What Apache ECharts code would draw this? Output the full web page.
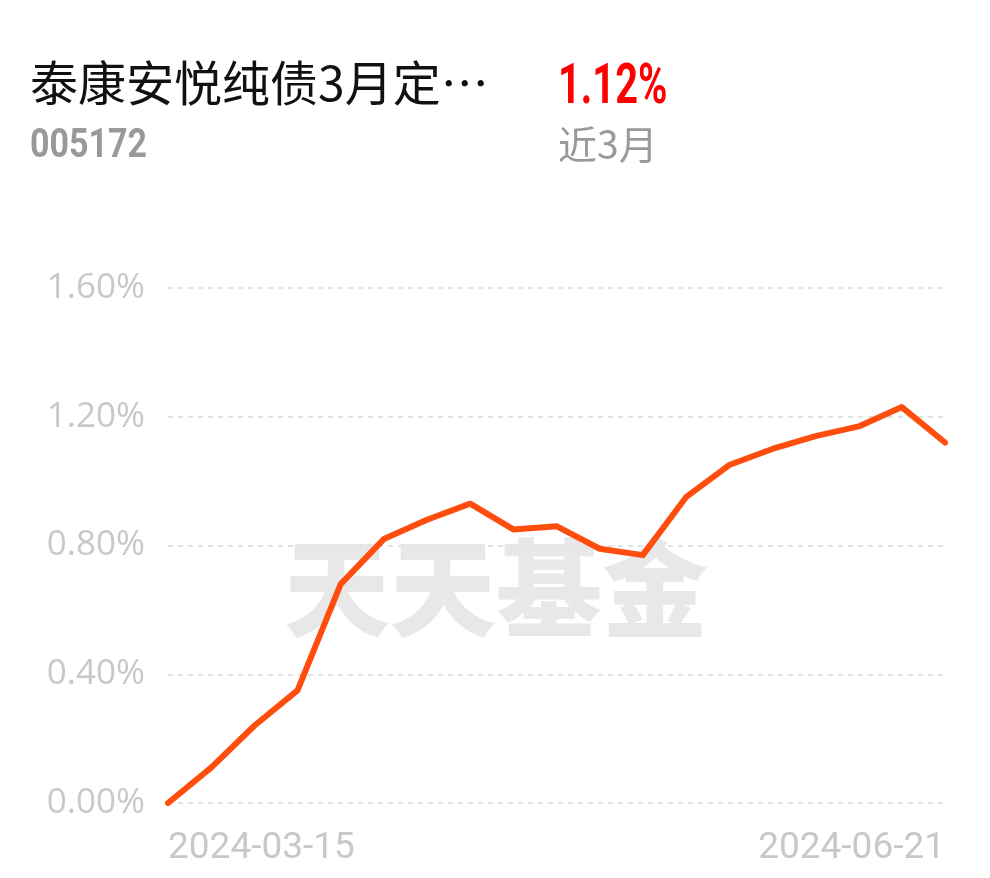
<!DOCTYPE html>
<html><head><meta charset="utf-8">
<script src="https://cdn.jsdelivr.net/npm/echarts@6/dist/echarts.min.js"></script>
<style>html,body{margin:0;padding:0;background:#fff}#c{width:990px;height:878px}</style>
</head><body><div id="c"></div>
<script>
const fundName = '泰康安悦纯债3月定…';
const fundCode = '005172';
const periodReturn = '1.12%';
const periodLabel = '近3月';
const watermark = '天天基金';
const dates = ['2024-03-15','2024-03-20','2024-03-25','2024-03-28','2024-04-02','2024-04-09','2024-04-12','2024-04-17','2024-04-22','2024-04-25','2024-05-06','2024-05-09','2024-05-14','2024-05-17','2024-05-22','2024-05-27','2024-06-03','2024-06-14','2024-06-21'];
const returns = [0.00,0.11,0.24,0.35,0.68,0.82,0.88,0.93,0.85,0.86,0.79,0.77,0.95,1.05,1.10,1.14,1.17,1.23,1.12];
const yTicks = [0, 0.4, 0.8, 1.2, 1.6];

const chart = echarts.init(document.getElementById('c'));
const font = '"Noto Sans CJK SC", "Noto Sans", sans-serif';
chart.setOption({
  animation: false,
  graphic: [
    {type:'text', left:30, top:59, z:10, style:{text:fundName, font:'400 48px ' + font, fill:'#111'}},
    {type:'text', x:30, y:127, scaleX:0.85, z:10, style:{text:fundCode, font:'bold 40px Roboto, ' + font, fill:'#999'}},
    {type:'text', x:558, y:61, scaleX:0.71, z:10, style:{text:periodReturn, font:'bold 56px Roboto, ' + font, fill:'#f00'}},
    {type:'text', left:558, top:125, z:10, style:{text:periodLabel, font:'400 39px ' + font, fill:'#999'}},
    {type:'text', left:284, top:535, z:0, style:{text:watermark, font:'900 106px "Noto Sans CJK SC", serif', fill:'#e8e8e8'}}
  ],
  grid: {left:168, right:45, top:288, bottom:75},
  xAxis: {
    type:'category', data:dates, boundaryGap:false,
    axisLine:{show:false}, axisTick:{show:false},
    axisLabel:{
      interval:(i)=> i===0 || i===dates.length-1,
      color:'#c8c8c8', fontSize:37, fontFamily:'Roboto, sans-serif', margin:27,
      alignMinLabel:'left', alignMaxLabel:'right'
    },
    splitLine:{show:false}
  },
  yAxis: {
    type:'value', min:yTicks[0], max:yTicks[yTicks.length-1], interval:0.4,
    axisLine:{show:false}, axisTick:{show:false},
    axisLabel:{color:'#c8c8c8', fontSize:35, fontFamily:'"Open Sans", sans-serif', margin:23,
      formatter:(v)=>v.toFixed(2)+'%'},
    splitLine:{lineStyle:{color:'#e2e2e2', type:[5,5], width:2}}
  },
  series: [{
    type:'line', data:returns, symbol:'none', z:5,
    lineStyle:{color:'#ff4d0d', width:6, cap:'round', join:'round'}
  }]
});
</script></body></html>
